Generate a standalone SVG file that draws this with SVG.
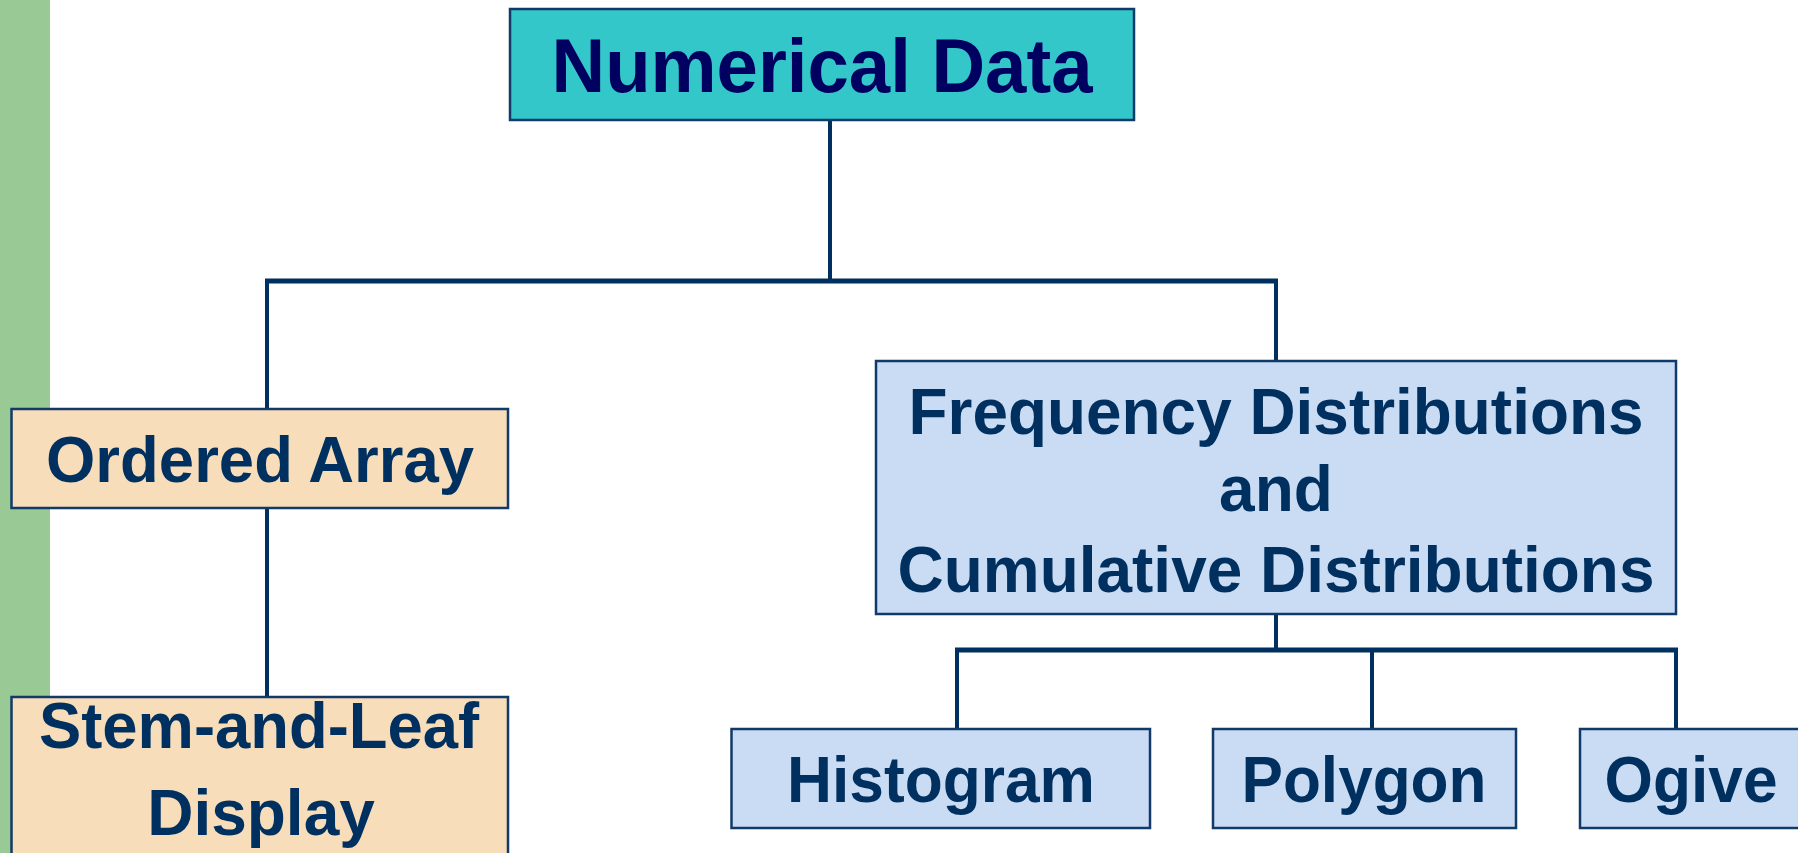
<svg xmlns="http://www.w3.org/2000/svg" width="1798" height="853" viewBox="0 0 1798 853">
  <style>
    .box { stroke: #123A68; stroke-width: 2.5; }
    .root { fill: #33C7C9; }
    .warm { fill: #F8DDBB; }
    .cool { fill: #CADCF4; }
    .label { font-family: "Liberation Sans", Arial, sans-serif; font-weight: bold; font-size: 64px; fill: #00305F; text-anchor: middle; }
    .title { font-size: 76px; fill: #000060; }
    .link { stroke: #00305F; fill: none; stroke-linecap: butt; }
    .v { stroke-width: 4; }
    .h { stroke-width: 5; }
  </style>

  <!-- side accent bar -->
  <rect x="0" y="0" width="50" height="853" fill="#99CA95"/>

  <g id="connectors">
    <line class="link v" x1="830" y1="120" x2="830" y2="281"/>
    <line class="link h" x1="265" y1="281" x2="1278" y2="281"/>
    <line class="link v" x1="267" y1="281" x2="267" y2="409"/>
    <line class="link v" x1="1276" y1="281" x2="1276" y2="361"/>
    <line class="link v" x1="267" y1="508" x2="267" y2="697"/>
    <line class="link v" x1="1276" y1="614" x2="1276" y2="650"/>
    <line class="link h" x1="955" y1="650" x2="1678" y2="650"/>
    <line class="link v" x1="957" y1="650" x2="957" y2="729"/>
    <line class="link v" x1="1372" y1="650" x2="1372" y2="729"/>
    <line class="link v" x1="1676" y1="650" x2="1676" y2="729"/>
  </g>

  <g id="numerical-data">
    <rect class="box root" x="510" y="9" width="624" height="111"/>
    <text class="label title" x="822" y="92" textLength="541" lengthAdjust="spacingAndGlyphs">Numerical Data</text>
  </g>

  <g id="ordered-array">
    <rect class="box warm" x="11.5" y="409" width="496.5" height="99"/>
    <text class="label" x="260" y="482" textLength="428" lengthAdjust="spacingAndGlyphs">Ordered Array</text>
  </g>

  <g id="stem-and-leaf">
    <rect class="box warm" x="11.5" y="697" width="496.5" height="170"/>
    <text class="label" x="259" y="748" textLength="440" lengthAdjust="spacingAndGlyphs">Stem-and-Leaf</text>
    <text class="label" x="261" y="835">Display</text>
  </g>

  <g id="distributions">
    <rect class="box cool" x="876" y="361" width="800" height="253"/>
    <text class="label" x="1276" y="434" textLength="735" lengthAdjust="spacingAndGlyphs">Frequency Distributions</text>
    <text class="label" x="1276" y="511">and</text>
    <text class="label" x="1276" y="592" textLength="757" lengthAdjust="spacingAndGlyphs">Cumulative Distributions</text>
  </g>

  <g id="histogram">
    <rect class="box cool" x="731.5" y="729" width="418.5" height="99"/>
    <text class="label" x="941" y="802" textLength="308" lengthAdjust="spacingAndGlyphs">Histogram</text>
  </g>

  <g id="polygon">
    <rect class="box cool" x="1213" y="729" width="303" height="99"/>
    <text class="label" x="1364" y="802" textLength="245" lengthAdjust="spacingAndGlyphs">Polygon</text>
  </g>

  <g id="ogive">
    <rect class="box cool" x="1580" y="729" width="222" height="99"/>
    <text class="label" x="1691" y="802" textLength="173" lengthAdjust="spacingAndGlyphs">Ogive</text>
  </g>
</svg>
